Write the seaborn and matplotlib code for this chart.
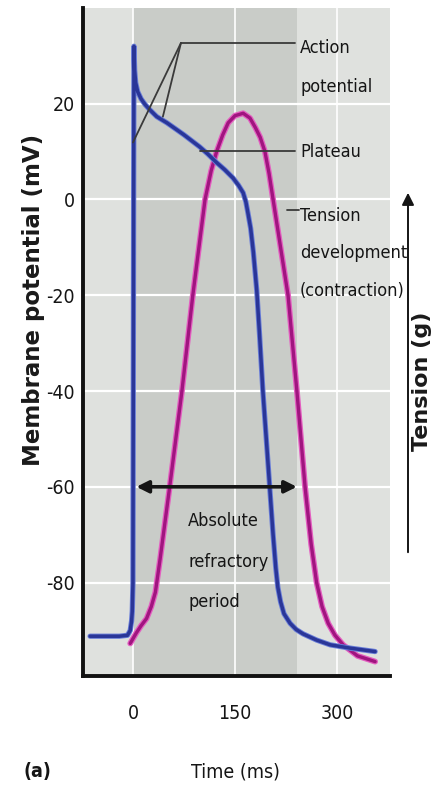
import pandas as pd
import seaborn as sns
import matplotlib.pyplot as plt
from matplotlib import font_manager as fm
from matplotlib.patches import FancyArrowPatch

# action potential (ms, mV)
ap_time = [-63, -20, -8, -4, -2, -1, 0, 0.5, 1, 1.5, 2.5, 4, 7, 12, 18, 25, 35, 50,
           75, 98, 110, 123, 135, 147, 155, 162, 166, 169, 173, 177, 182, 186, 191,
           196, 201, 206, 210, 213, 217, 222, 231, 240, 250, 270, 290, 320, 356]
ap_mv = [-91.2, -91.2, -91, -90, -88, -86, -80, -40, 0, 32, 27, 24.4, 22.5, 21,
         19.8, 18.7, 17.3, 16, 13.5, 11, 9.5, 7.7, 6.2, 4.5, 3, 1.4, -0.5, -2.8, -6,
         -11, -19, -28, -40, -50, -60, -70, -77, -81, -84, -86.5, -88.5, -89.8, -90.7,
         -92, -93, -93.7, -94.4]

# tension development, drawn on the same scale
ten_time = [-4, 5, 12, 20, 27, 33, 40, 54, 72, 88, 97, 106, 115, 123, 132, 140, 150,
            162, 172, 180, 187, 194, 200, 206, 217, 228, 241, 253, 262, 270, 278, 287,
            297, 309, 330, 356]
ten_mv = [-92.7, -90.5, -89, -87.5, -85, -82, -75, -60, -40, -20, -10, 0, 6, 10,
          13.5, 16, 17.5, 18, 17, 15, 13, 10, 5.5, 0, -10, -20, -40, -60, -72, -80,
          -85, -88.5, -91, -93, -95.3, -96.5]

x_ticks = [0, 150, 300]
y_ticks = [-80, -60, -40, -20, 0, 20]
refractory = (0, 241)

ap = pd.DataFrame({"time": ap_time, "mv": ap_mv})
ten = pd.DataFrame({"time": ten_time, "mv": ten_mv})

sns.set_theme(style="white")
plt.rcParams["axes.unicode_minus"] = False

# narrow face for the labels, whichever one is installed
fonts = fm.fontManager.ttflist
names = {f.name for f in fonts}
if "Liberation Sans Narrow" in names:
    nfam, nstretch = "Liberation Sans Narrow", "normal"
elif any(f.name == "DejaVu Sans" and str(f.stretch) == "condensed" for f in fonts):
    nfam, nstretch = "DejaVu Sans", "condensed"
else:
    nfam, nstretch = "Liberation Sans", "normal"
plt.rcParams["font.family"] = [nfam, "DejaVu Sans"]
plt.rcParams["font.stretch"] = nstretch

fig = plt.figure(figsize=(4.32, 7.92), dpi=100)
ax = fig.add_axes([0.192, 0.1465, 0.711, 0.8435])
ax.set_facecolor("#dfe1de")
ax.axvspan(*refractory, color="#c9ccc8", zorder=0, lw=0)

for y in y_ticks:
    ax.axhline(y, color="white", lw=1.6, zorder=1)
for x in x_ticks:
    ax.axvline(x, color="white", lw=1.2, zorder=1)

sns.lineplot(data=ten, x="time", y="mv", ax=ax, color="#e35ec0", lw=4.2, sort=False, zorder=3)
sns.lineplot(data=ten, x="time", y="mv", ax=ax, color="#a0157f", lw=2.4, sort=False, zorder=3)
sns.lineplot(data=ap, x="time", y="mv", ax=ax, color="#6a7ed8", lw=3.8, sort=False, zorder=4)
sns.lineplot(data=ap, x="time", y="mv", ax=ax, color="#2a3698", lw=2.5, sort=False, zorder=4)

ax.set_xlim(-73.5, 378)
ax.set_ylim(-99.5, 40)
ax.set_xticks(x_ticks)
ax.set_yticks(y_ticks)
ax.set_xlabel("")
ax.set_ylabel("")
ax.tick_params(axis="both", length=0, labelsize=14, labelcolor="#151515")
ax.tick_params(axis="x", pad=20)
ax.tick_params(axis="y", pad=6)
for s in ["top", "right"]:
    ax.spines[s].set_visible(False)
for s in ["left", "bottom"]:
    ax.spines[s].set_color("#111111")
    ax.spines[s].set_linewidth(2.8)

# callouts
lc = "#3a3a3a"
ax.plot([70.6, 238], [32.7, 32.7], color=lc, lw=1.3, zorder=5)
ax.plot([70.6, 0], [32.7, 11.9], color=lc, lw=1.3, zorder=5)
ax.plot([70.6, 44], [32.7, 17.3], color=lc, lw=1.3, zorder=5)
ax.plot([98.5, 238], [10.2, 10.2], color=lc, lw=1.3, zorder=5)
ax.plot([226, 244], [-2.3, -2.3], color=lc, lw=1.3, zorder=5)

tk = dict(fontsize=13, color="#151515", zorder=6)
ax.text(245.6, 33.6, "Action\npotential", va="top", ha="left", linespacing=2.5, **tk)
ax.text(245.6, 10, "Plateau", va="center", ha="left", **tk)
ax.text(245.6, -1.5, "Tension\ndevelopment\n(contraction)", va="top", ha="left",
        linespacing=2.4, **tk)

ax.annotate("", xy=(5, -60), xytext=(241, -60),
            arrowprops=dict(arrowstyle="<|-|>", color="#151515", lw=2.6,
                            mutation_scale=18, shrinkA=0, shrinkB=0), zorder=6)
ax.text(81, -65.3, "Absolute\nrefractory\nperiod", va="top", ha="left",
        linespacing=2.6, **tk)

fig.text(0.078, 0.621, "Membrane potential (mV)", rotation=90, ha="center", va="center",
         fontsize=16.5, fontweight="bold", family="DejaVu Sans", stretch="normal",
         color="#1a1a1a")
fig.text(422 / 432, 1 - 381 / 792, "Tension (g)", rotation=90, ha="center", va="center",
         fontsize=16, fontweight="bold", family="DejaVu Sans", stretch="normal",
         color="#1a1a1a")
fig.patches.append(FancyArrowPatch(
    (408 / 432, 1 - 555 / 792), (408 / 432, 1 - 190 / 792), transform=fig.transFigure,
    arrowstyle="-|>", mutation_scale=18, lw=1.4, color="#151515"))

fig.text(235 / 432, 1 - 772 / 792, "Time (ms)", ha="center", va="center", fontsize=14,
         color="#151515")
fig.text(37 / 432, 1 - 772 / 792, "(a)", ha="center", va="center", fontsize=14,
         fontweight="bold", color="#151515")

fig.savefig("out.png", dpi=100, facecolor="white")
